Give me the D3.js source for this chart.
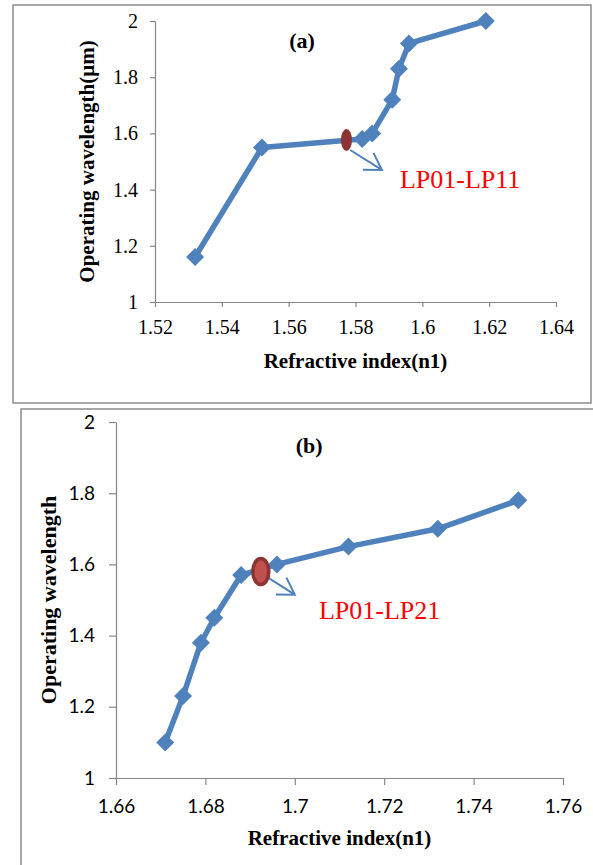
<!DOCTYPE html>
<html>
<head>
<meta charset="utf-8">
<script src="https://cdn.jsdelivr.net/npm/d3@7"></script>
<style>
body{margin:0;background:#fff;}
svg{display:block;}
</style>
</head>
<body>
<script>
// panel (a)
var indexA=[1.532,1.552,1.582,1.585,1.591,1.593,1.596,1.619]
var waveA=[1.16,1.55,1.58,1.60,1.72,1.83,1.92,2.0]
var xTicksA=[1.52,1.54,1.56,1.58,1.6,1.62,1.64]
var cutoffA=[1.5773,1.5765]
var labelA="LP01-LP11"
// panel (b)
var indexB=[1.671,1.675,1.679,1.682,1.688,1.696,1.712,1.732,1.750]
var waveB=[1.10,1.23,1.38,1.45,1.57,1.60,1.65,1.70,1.78]
var xTicksB=[1.66,1.68,1.7,1.72,1.74,1.76]
var cutoffB=[1.6924,1.580]
var labelB="LP01-LP21"
var yTicks=[1,1.2,1.4,1.6,1.8,2]

var serif="'Liberation Serif','Times New Roman',serif"
var sans="Lato,'Noto Sans',sans-serif"
var blue="#4f81bd"

var svg=d3.select("body").append("svg")
          .attr("width",593)
          .attr("height",865)

// boxes round the two panels
svg.append("rect")
   .attr("x",13).attr("y",5).attr("width",578).attr("height",398)
   .attr("fill","none").attr("stroke","#8c8c8c").attr("stroke-width",1.5)
svg.append("rect")
   .attr("x",21).attr("y",409).attr("width",600).attr("height",500)
   .attr("fill","none").attr("stroke","#8c8c8c").attr("stroke-width",1.5)

var drawPanel=function(p)
{
  var x=d3.scaleLinear().domain([p.xTicks[0],p.xTicks[p.xTicks.length-1]]).range(p.xRange)
  var y=d3.scaleLinear().domain([1,2]).range(p.yRange)
  var g=svg.append("g")

  var xAxis=g.append("g")
             .attr("transform","translate(0,"+p.yRange[0]+")")
             .call(d3.axisBottom(x).tickValues(p.xTicks).tickSize(p.tick).tickSizeOuter(0).tickFormat(function(d){return String(d)}))
  xAxis.selectAll("text")
       .attr("y",p.xLabelY).attr("dy",0)
       .style("font-family",p.tickFont).style("font-size",p.tickSize+"px").attr("fill","#000")

  var yAxis=g.append("g")
             .attr("transform","translate("+p.xRange[0]+",0)")
             .call(d3.axisLeft(y).tickValues(yTicks).tickSize(p.tick).tickSizeOuter(0).tickFormat(function(d){return String(d)}))
  yAxis.selectAll("text")
       .attr("x",-p.yLabelGap)
       .style("font-family",p.tickFont).style("font-size",p.tickSize+"px").attr("fill","#000")
  g.selectAll(".domain,.tick line").attr("stroke","#868686").attr("stroke-width",1.2)

  // axis titles
  g.append("text")
   .attr("x",(p.xRange[0]+p.xRange[1])/2)
   .attr("y",p.xTitleY)
   .attr("text-anchor","middle")
   .style("font-family",serif).style("font-weight","bold").style("font-size","21px")
   .text("Refractive index(n1)")
  g.append("text")
   .attr("transform","translate("+p.yTitleX+","+((p.yRange[0]+p.yRange[1])/2)+") rotate(-90)")
   .attr("text-anchor","middle")
   .style("font-family",serif).style("font-weight","bold").style("font-size",p.yTitleSize+"px")
   .text(p.yTitle)

  // panel letter
  g.append("text")
   .attr("x",x(p.letterAt[0])).attr("y",y(p.letterAt[1]))
   .attr("text-anchor","middle")
   .style("font-family",serif).style("font-weight","bold").style("font-size","22px")
   .text(p.letter)

  var pts=p.xs.map(function(d,i){return [d,p.ys[i]]})
  var line=d3.line().x(function(d){return x(d[0])}).y(function(d){return y(d[1])})
  g.append("path")
   .attr("d",line(pts))
   .attr("fill","none").attr("stroke",blue).attr("stroke-width",5.5)
   .attr("stroke-linejoin","round")
  g.selectAll(".pt")
   .data(pts)
   .enter()
   .append("path")
   .attr("class","pt")
   .attr("d",d3.symbol().type(d3.symbolSquare).size(162))
   .attr("transform",function(d){return "translate("+x(d[0])+","+y(d[1])+") rotate(45)"})
   .attr("fill",blue)

  // cut-off marker, arrow and mode label
  var ax0=x(p.arrow[0]),ay0=y(p.arrow[1]),ax1=x(p.arrow[2]),ay1=y(p.arrow[3])
  var ang=Math.atan2(ay1-ay0,ax1-ax0)+Math.PI
  var arm=19,spread=0.55
  g.append("path")
   .attr("d","M"+ax0+","+ay0+"L"+ax1+","+ay1
            +"M"+(ax1+arm*Math.cos(ang-spread))+","+(ay1+arm*Math.sin(ang-spread))
            +"L"+ax1+","+ay1
            +"L"+(ax1+arm*Math.cos(ang+spread))+","+(ay1+arm*Math.sin(ang+spread)))
   .attr("fill","none").attr("stroke",blue).attr("stroke-width",2)
  g.append("ellipse")
   .attr("cx",x(p.cutoff[0])).attr("cy",y(p.cutoff[1]))
   .attr("rx",p.ell[0]).attr("ry",p.ell[1])
   .attr("fill",p.ellFill).attr("stroke","#8c3434").attr("stroke-width",p.ellStroke)
  g.append("text")
   .attr("x",x(p.labelAt[0])).attr("y",y(p.labelAt[1]))
   .style("font-family",serif).style("font-size","26px").attr("fill","#ff0000")
   .text(p.label)
}

drawPanel({xs:indexA,ys:waveA,xTicks:xTicksA,xRange:[155,556],yRange:[302,21],tick:5,
  tickFont:serif,tickSize:20,xLabelY:32,yLabelGap:17,xTitleY:368,
  yTitle:"Operating  wavelength(\u03bcm)",yTitleX:94,yTitleSize:21,
  letter:"(a)",letterAt:[1.564,1.904],cutoff:cutoffA,ell:[5.5,11],ellFill:"#8c3434",ellStroke:0,
  arrow:[1.5784,1.541,1.5879,1.470],label:labelA,labelAt:[1.5933,1.406]})

drawPanel({xs:indexB,ys:waveB,xTicks:xTicksB,xRange:[116,563],yRange:[778,422],tick:7,
  tickFont:sans,tickSize:19,xLabelY:35,yLabelGap:21,xTitleY:845,
  yTitle:"Operating  wavelength",yTitleX:56,yTitleSize:22,
  letter:"(b)",letterAt:[1.7032,1.914],cutoff:cutoffB,ell:[8,13],ellFill:"#c0504d",ellStroke:3.5,
  arrow:[1.694,1.5626,1.7000,1.515],label:labelB,labelAt:[1.7054,1.4466]})
</script>
</body>
</html>
